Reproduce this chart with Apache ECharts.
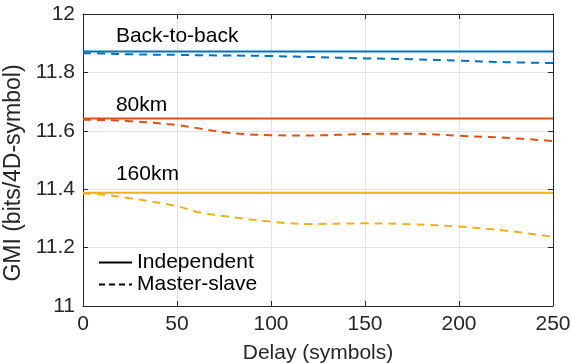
<!DOCTYPE html>
<html>
<head>
<meta charset="utf-8">
<script src="https://cdn.jsdelivr.net/npm/echarts@6/dist/echarts.min.js"></script>
<style>
  html, body { margin: 0; padding: 0; background: #fff; }
  #main { width: 571px; height: 363px; }
</style>
</head>
<body>
<div id="main"></div>
<script>
var delayX = [0, 10, 25, 50, 60, 75, 100, 120, 150, 175, 200, 225, 250];
var b2bMS = [11.866, 11.865, 11.862, 11.860, 11.859, 11.858, 11.856, 11.853, 11.848, 11.845, 11.840, 11.835, 11.832];
var km80MS = [11.638, 11.637, 11.633, 11.620, 11.610, 11.595, 11.585, 11.584, 11.589, 11.590, 11.583, 11.576, 11.565];
var km160MS = [11.385, 11.382, 11.369, 11.342, 11.323, 11.308, 11.289, 11.281, 11.283, 11.280, 11.272, 11.258, 11.237];
var b2bInd = 11.872, km80Ind = 11.642, km160Ind = 11.388;
var names = ['Back-to-back', '80km', '160km'];
var colors = ['#0072BD', '#D95319', '#EDB120'];

function pairs(ys) {
  return delayX.map(function (x, i) { return [x, ys[i]]; });
}
function flat(v) {
  return [[0, v], [250, v]];
}

var chart = echarts.init(document.getElementById('main'), null, { renderer: 'canvas' });
var font = 'Liberation Sans, Arial, Helvetica, sans-serif';
var axisColor = '#262626';

var ind = [b2bInd, km80Ind, km160Ind];
var ms = [b2bMS, km80MS, km160MS];
var labelY = [11.925, 11.688, 11.452];

var series = [];
for (var i = 0; i < 3; i++) {
  series.push({
    type: 'line', data: flat(ind[i]), showSymbol: false, symbol: 'none',
    lineStyle: { color: colors[i], width: 2 }, z: 3,
    markPoint: {
      symbol: 'circle', symbolSize: 0, silent: true,
      label: { show: true, position: 'right', distance: 0, color: '#000', fontFamily: font, fontSize: 21,
        formatter: names[i] },
      data: [{ coord: [17.5, labelY[i]] }]
    }
  });
  series.push({
    type: 'line', data: pairs(ms[i]), smooth: 0.4, showSymbol: false, symbol: 'none',
    lineStyle: { color: colors[i], width: 2, type: [8, 6] }, z: 2
  });
}
// legend-only series
series.push({ name: 'Independent', type: 'line', data: [], symbol: 'none',
  lineStyle: { color: '#000', width: 1.5 }, itemStyle: { color: '#000', opacity: 0 } });
series.push({ name: 'Master-slave', type: 'line', data: [], symbol: 'none',
  lineStyle: { color: '#000', width: 1.5, type: [6, 4] }, itemStyle: { color: '#000', opacity: 0 } });

var option = {
  animation: false,
  grid: { left: 83, right: 18, top: 14, bottom: 57, outerBoundsMode: 'none', containLabel: false },
  legend: {
    orient: 'vertical', left: 93, top: 247,
    itemWidth: 33, itemHeight: 14, itemGap: 1,
    itemStyle: { opacity: 0 },
    textStyle: { fontFamily: font, fontSize: 21, color: '#000' },
    data: ['Independent', 'Master-slave']
  },
  xAxis: [{
    type: 'value', min: 0, max: 250, interval: 50,
    name: 'Delay (symbols)', nameLocation: 'middle', nameGap: 37,
    nameTextStyle: { fontFamily: font, fontSize: 21, color: axisColor },
    axisLine: { onZero: false, lineStyle: { color: axisColor, width: 1 } },
    axisTick: { inside: true, length: 5, lineStyle: { color: axisColor } },
    axisLabel: { fontFamily: font, fontSize: 21, color: axisColor, margin: 8 },
    splitLine: { show: true, lineStyle: { color: '#e3e3e3', width: 1 } }
  }, {
    type: 'value', min: 0, max: 250, interval: 50, position: 'top',
    axisLine: { onZero: false, lineStyle: { color: axisColor, width: 1 } },
    axisTick: { inside: true, length: 5, lineStyle: { color: axisColor } },
    axisLabel: { show: false }, splitLine: { show: false }
  }],
  yAxis: [{
    type: 'value', min: 11, max: 12, interval: 0.2,
    name: 'GMI (bits/4D-symbol)', nameLocation: 'middle', nameGap: 48,
    nameTextStyle: { fontFamily: font, fontSize: 23, color: axisColor, padding: [0, 26, 0, 0] },
    axisLine: { show: true, onZero: false, lineStyle: { color: axisColor, width: 1 } },
    axisTick: { show: true, inside: true, length: 5, lineStyle: { color: axisColor } },
    axisLabel: { fontFamily: font, fontSize: 21, color: axisColor, margin: 8,
      formatter: function (v) { return +v.toFixed(1) + ''; } },
    splitLine: { show: true, lineStyle: { color: '#e3e3e3', width: 1 } }
  }, {
    type: 'value', min: 11, max: 12, interval: 0.2, position: 'right',
    axisLine: { show: true, onZero: false, lineStyle: { color: axisColor, width: 1 } },
    axisTick: { show: true, inside: true, length: 5, lineStyle: { color: axisColor } },
    axisLabel: { show: false }, splitLine: { show: false }
  }],
  series: series
};
chart.setOption(option);
</script>
</body>
</html>
